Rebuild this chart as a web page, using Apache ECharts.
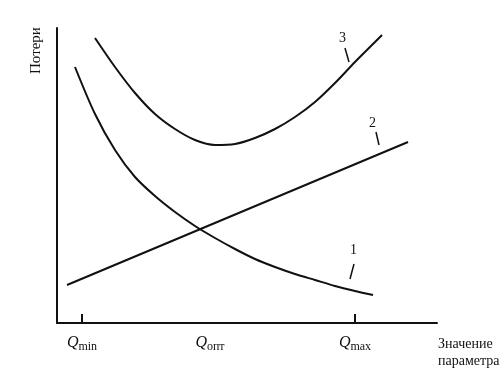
<!DOCTYPE html>
<html lang="ru">
<head>
<meta charset="UTF-8">
<title>Потери</title>
<script src="https://cdn.jsdelivr.net/npm/echarts@6/dist/echarts.min.js"></script>
<style>
  body { margin: 0; background: #fff; }
  #chart { width: 504px; height: 372px; }
</style>
</head>
<body>
<div id="chart"></div>
<script>
  // точки кривых (x — значение параметра, y — потери)
  const curve1 = [[18,256],[38,209],[58,173],[78,146],[98,127],[118,111],[138,97],[158,85],[178,74],[198,64],[218,56],[238,49],[258,43],[278,37],[298,32],[316,28]];
  const curve2 = [[10,38],[351,181]];
  const curve3 = [[38,285],[58,256],[78,230],[98,209],[118,194],[138,183],[158,178],[178,179],[198,185],[218,194],[238,206],[258,221],[278,240],[298,261],[318,281],[325,288]];
  const tickValues = [25, 298];
  const labelValues = [25, 153, 298];
  const labelTexts = ['{q|Q}{s|min}', '{q|Q}{s|опт}', '{q|Q}{s|max}'];

  const chart = echarts.init(document.getElementById('chart'));
  const serif = '"Liberation Serif", "DejaVu Serif", serif';

  const lineSeries = (data) => ({
    type: 'line', data: data, smooth: 0.3, symbol: 'none',
    lineStyle: { color: '#111', width: 2 }
  });

  chart.setOption({
    animation: false,
    grid: { left: 57, right: 67, top: 28, bottom: 49 },
    xAxis: {
      type: 'value', min: 0, max: 380,
      splitLine: { show: false },
      axisLine: { lineStyle: { color: '#111', width: 2 } },
      axisTick: { show: true, inside: true, length: 9, customValues: tickValues, lineStyle: { color: '#111', width: 2 } },
      axisLabel: {
        customValues: labelValues,
        margin: 10,
        formatter: (v) => labelTexts[labelValues.indexOf(v)],
        rich: {
          q: { fontFamily: serif, fontStyle: 'italic', fontSize: 16, color: '#111' },
          s: { fontFamily: serif, fontSize: 12, color: '#111', padding: [8, 0, 0, 0] }
        }
      }
    },
    yAxis: {
      type: 'value', min: 0, max: 295,
      splitLine: { show: false },
      axisLine: { show: true, lineStyle: { color: '#111', width: 2 } },
      axisTick: { show: false },
      axisLabel: { show: false }
    },
    series: [lineSeries(curve1), lineSeries(curve2), lineSeries(curve3)],
    graphic: [
      { type: 'text', x: 29, y: 74, rotation: Math.PI / 2, style: { text: 'Потери', font: '15px ' + serif, fill: '#111' } },
      { type: 'text', x: 438, y: 336, style: { text: 'Значение\nпараметра', font: '14px ' + serif, fill: '#111', lineHeight: 17 } },
      { type: 'text', x: 339, y: 31, style: { text: '3', font: '14px ' + serif, fill: '#111' } },
      { type: 'line', shape: { x1: 345, y1: 48, x2: 349, y2: 62 }, style: { stroke: '#111', lineWidth: 1.5 } },
      { type: 'text', x: 369, y: 116, style: { text: '2', font: '14px ' + serif, fill: '#111' } },
      { type: 'line', shape: { x1: 376, y1: 132, x2: 379, y2: 145 }, style: { stroke: '#111', lineWidth: 1.5 } },
      { type: 'text', x: 350, y: 243, style: { text: '1', font: '14px ' + serif, fill: '#111' } },
      { type: 'line', shape: { x1: 354, y1: 264, x2: 350, y2: 279 }, style: { stroke: '#111', lineWidth: 1.5 } }
    ]
  });
</script>
</body>
</html>
